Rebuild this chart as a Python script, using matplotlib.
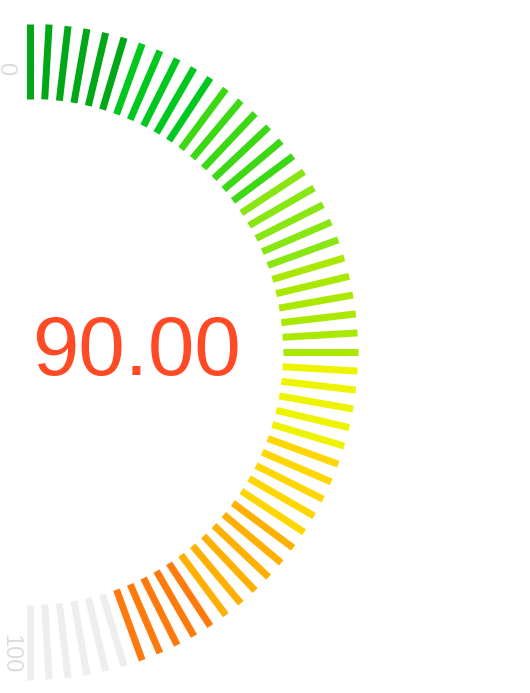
import numpy as np
import matplotlib
matplotlib.use("Agg")
import matplotlib.pyplot as plt

# ---- data ----
value = 90.0
min_value = 0
max_value = 100
split_count = 54                     # intervals between ticks
stop_values = [10, 20, 30, 40, 50, 60, 70, 80, 90, 100]
stop_colors = ["#00a818", "#00c81e", "#3cd814", "#88e612", "#aae800",
               "#eef400", "#ffd600", "#ffb000", "#ff7a0c", "#ff4a25"]
inactive_color = "#eeeeee"
label_texts = ["0", "100"]
value_text = "90.00"

W, H, DPI = 530, 693, 100
fig = plt.figure(figsize=(W / DPI, H / DPI), dpi=DPI)
fig.patch.set_facecolor("white")

# gauge geometry (pixels)
cx, cy = 30, 352
r_out, r_in = 328, 253

ax = fig.add_axes([(cx - r_out) / W, (H - cy - r_out) / H, 2 * r_out / W, 2 * r_out / H],
                  projection="polar")
ax.set_theta_zero_location("N")
ax.set_theta_direction(-1)
ax.set_ylim(0, r_out)
ax.axis("off")

def to_theta(v):
    return (v - min_value) / (max_value - min_value) * np.pi

tick_values = np.linspace(min_value, max_value, split_count + 1)
for tv in tick_values:
    if tv <= value + 1e-9:
        idx = next(i for i, s in enumerate(stop_values) if tv <= s + 1e-9)
        col = stop_colors[idx]
    else:
        col = inactive_color
    th = to_theta(tv)
    ax.plot([th, th], [r_in, r_out], color=col, lw=7 * 72 / DPI,
            solid_capstyle="butt", clip_on=False)

# axis labels
ax.annotate(label_texts[0], xy=(to_theta(min_value), 284), xytext=(-18, 0),
            textcoords="offset pixels", rotation=90, ha="center", va="center",
            color="#dcdcdc", fontsize=17, family="Liberation Sans",
            annotation_clip=False)
ax.annotate(label_texts[1], xy=(to_theta(max_value), 302), xytext=(-19.5, 0),
            textcoords="offset pixels", rotation=-90, ha="center", va="center",
            color="#dcdcdc", fontsize=17, family="Liberation Sans",
            annotation_clip=False)

# value text
fig.text(136 / W, 1 - 375.5 / H, value_text, ha="center", va="baseline",
         color="#ff4a25", fontsize=60, family="Liberation Sans")

fig.savefig("out.png", dpi=DPI, facecolor="white")
